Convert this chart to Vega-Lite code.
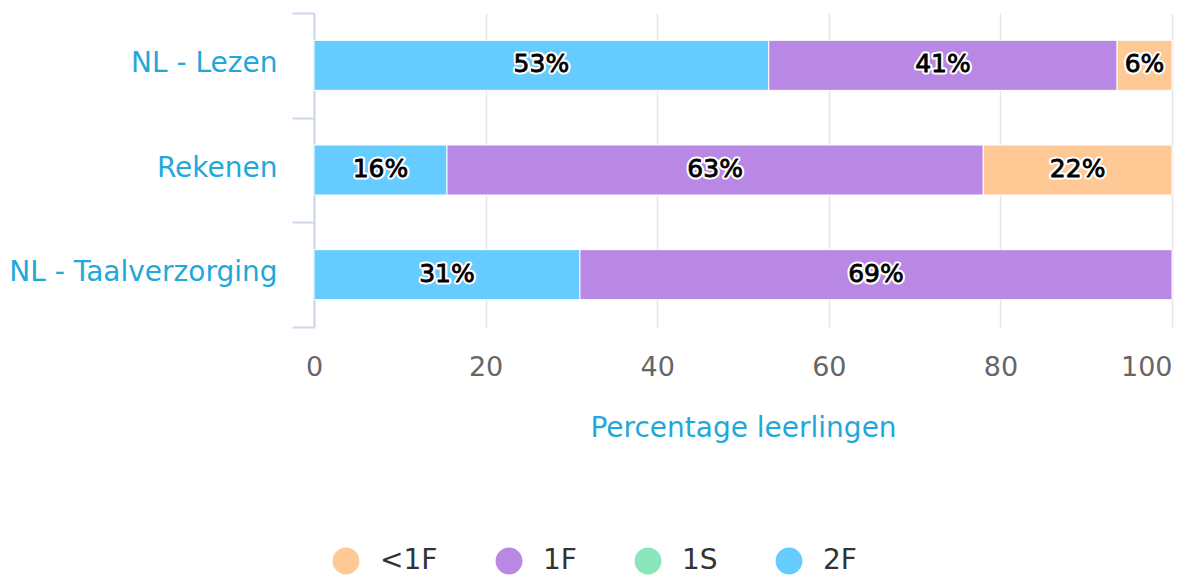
{
  "$schema": "https://vega.github.io/schema/vega-lite/v6.json",
  "autosize": "none",
  "width": 858,
  "height": 314,
  "padding": {"left": 314, "top": 13, "right": 8, "bottom": 250},
  "background": "white",
  "config": {
    "font": "DejaVu Sans",
    "view": {"stroke": null}
  },
  "data": {
    "values": [
      {"vak": "NL - Lezen", "niveau": "2F", "pct": 53, "rang": 1},
      {"vak": "NL - Lezen", "niveau": "1F", "pct": 40.6, "rang": 2},
      {"vak": "NL - Lezen", "niveau": "<1F", "pct": 6.4, "rang": 4},
      {"vak": "Rekenen", "niveau": "2F", "pct": 15.5, "rang": 1},
      {"vak": "Rekenen", "niveau": "1F", "pct": 62.5, "rang": 2},
      {"vak": "Rekenen", "niveau": "<1F", "pct": 22, "rang": 4},
      {"vak": "NL - Taalverzorging", "niveau": "2F", "pct": 31, "rang": 1},
      {"vak": "NL - Taalverzorging", "niveau": "1F", "pct": 69, "rang": 2}
    ]
  },
  "transform": [
    {"stack": "pct", "groupby": ["vak"], "sort": [{"field": "rang", "order": "ascending"}], "as": ["x0", "x1"]},
    {"calculate": "(datum.x0 + datum.x1) / 2", "as": "xmid"},
    {"calculate": "format(datum.pct, '.0f') + '%'", "as": "label"}
  ],
  "encoding": {
    "y": {
      "field": "vak",
      "type": "nominal",
      "sort": ["NL - Lezen", "Rekenen", "NL - Taalverzorging"],
      "scale": {"paddingInner": 0, "paddingOuter": 0},
      "axis": {
        "title": null,
        "tickBand": "extent",
        "domainColor": "#ccd6eb",
        "domainWidth": 2,
        "tickColor": "#ccd6eb",
        "tickWidth": 2,
        "tickSize": 22,
        "labelColor": "#1fa8d9",
        "labelFontSize": 28,
        "labelLimit": 400,
        "labelPadding": 15,
        "labelOffset": -2
      }
    }
  },
  "layer": [
    {
      "mark": {"type": "bar", "stroke": "white", "strokeWidth": 1, "height": {"band": 0.478}},
      "encoding": {
        "x": {
          "field": "x0",
          "type": "quantitative",
          "scale": {"domain": [0, 100], "nice": false},
          "axis": {
            "title": "Percentage leerlingen",
            "values": [0, 20, 40, 60, 80, 100],
            "domain": false,
            "ticks": false,
            "gridColor": "#e6e6e6",
            "gridWidth": 1.5,
            "labelColor": "#666666",
            "labelFontSize": 27,
            "labelPadding": 27,
            "labelFlush": false,
            "labelAlign": {"condition": {"test": "datum.value == 100", "value": "right"}, "value": "center"},
            "titleColor": "#1fa8d9",
            "titleFontSize": 28,
            "titleFontWeight": "normal",
            "titlePadding": 34
          }
        },
        "x2": {"field": "x1"},
        "color": {
          "field": "niveau",
          "type": "nominal",
          "scale": {
            "domain": ["<1F", "1F", "1S", "2F"],
            "range": ["#ffc996", "#b888e4", "#8ae6bb", "#66ccff"]
          },
          "legend": {
            "title": null,
            "orient": "none",
            "legendX": 18,
            "legendY": 534,
            "direction": "horizontal",
            "columnPadding": 57,
            "symbolType": "circle",
            "symbolSize": 720,
            "symbolStrokeWidth": 0,
            "symbolOpacity": 1,
            "labelFontSize": 28,
            "labelColor": "#333333",
            "labelOffset": 20
          }
        }
      }
    },
    {
      "mark": {"type": "text", "fontSize": 25, "stroke": "white", "strokeWidth": 5, "strokeJoin": "round", "fill": "white", "dy": -1},
      "encoding": {
        "x": {"field": "xmid", "type": "quantitative"},
        "text": {"field": "label"}
      }
    },
    {
      "mark": {"type": "text", "fontSize": 25, "fill": "black", "stroke": "black", "strokeWidth": 0.8, "dy": -1},
      "encoding": {
        "x": {"field": "xmid", "type": "quantitative"},
        "text": {"field": "label"}
      }
    }
  ]
}
